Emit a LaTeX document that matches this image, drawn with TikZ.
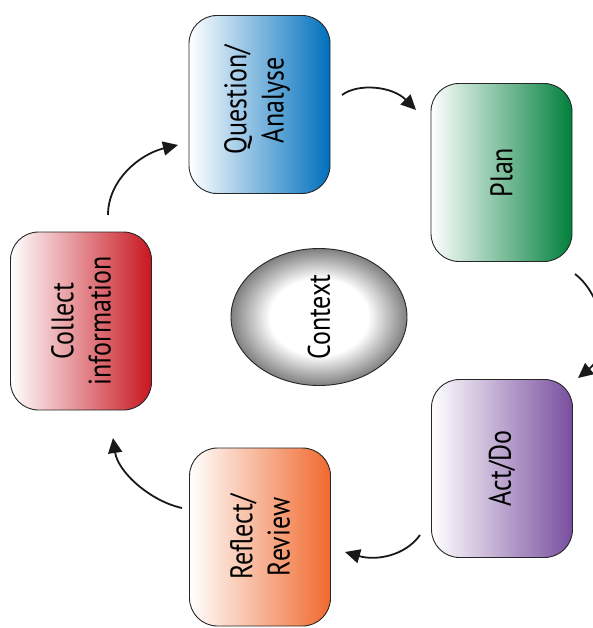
\documentclass[tikz,border=0pt]{standalone}
\usepackage{fontspec}
\setmainfont{PT Sans}
\usetikzlibrary{arrows.meta,shapes.geometric}
\definecolor{qblue}{RGB}{0,112,190}
\definecolor{pgreen}{RGB}{0,128,60}
\definecolor{apurple}{RGB}{120,78,158}
\definecolor{rorange}{RGB}{240,105,45}
\definecolor{cred}{RGB}{200,22,32}
\pgfdeclareradialshading{ctxshade}{\pgfpoint{0bp}{0bp}}{color(0bp)=(white); color(14bp)=(white); color(25bp)=(black!50); color(50bp)=(black!50)}
\tikzset{
  stage/.style={draw=black!85, line width=0.9pt, rounded corners=28pt,
    minimum width=141pt, minimum height=178pt, inner sep=0pt,
    left color=white, middle color=#1!22, right color=#1},
  lbl/.style={xscale=1.2, rotate=90, align=center, inner sep=0pt,
    font=\fontsize{26}{31}\selectfont},
  ctx/.style={ellipse, draw=black!85, line width=0.9pt, shading=ctxshade,
    minimum width=176pt, minimum height=137pt, inner sep=0pt},
  arr/.style={line width=1.8pt, draw=black!90,
    -{Triangle[length=15pt,width=14pt]}}
}
\begin{document}
\begin{tikzpicture}[x=1pt,y=-1pt]
\useasboundingbox (0,0) rectangle (593,628);
\clip (0,0) rectangle (593,628);
\node[stage=qblue] (q) at (259.5,104.5) {};
\node[lbl] (qt) at (257,100) {Question/\\Analyse};
\node[stage=pgreen] (p) at (501.5,172.5) {};
\node[lbl] (pt) at (p) {Plan};
\node[stage=apurple] (a) at (502,468.5) {};
\node[lbl] (at) at (a) {Act/Do};
\node[stage=rorange] (r) at (260,537) {};
\node[lbl] (rt) at (r) {Reflect/\\Review};
\node[stage=cred] (c) at (81,321) {};
\node[lbl] (ct) at (c) {Collect\\information};
\node[ctx] (x) at (319,317) {};
\node[lbl] (xt) at (x) {Context};
% arrow endpoints
\coordinate (a1s) at (342,95);
\coordinate (a1e) at (416,110);
\coordinate (a2s) at (575,274);
\coordinate (a2e) at (578,378);
\coordinate (a3s) at (420,535);
\coordinate (a3e) at (345,552);
\coordinate (a4s) at (182,508);
\coordinate (a4e) at (113,438);
\coordinate (a5s) at (108,215);
\coordinate (a5e) at (178,145);
\draw[arr] (a1s) .. controls (358,83) and (392,86) .. (a1e);
\draw[arr] (a2s) .. controls (606,298) and (610,352) .. (a2e);
\draw[arr] (a3s) .. controls (405,556) and (376,561) .. (a3e);
\draw[arr] (a4s) .. controls (150,501) and (118,472) .. (a4e);
\draw[arr] (a5s) .. controls (108,180) and (140,154) .. (a5e);
\end{tikzpicture}
\end{document}
